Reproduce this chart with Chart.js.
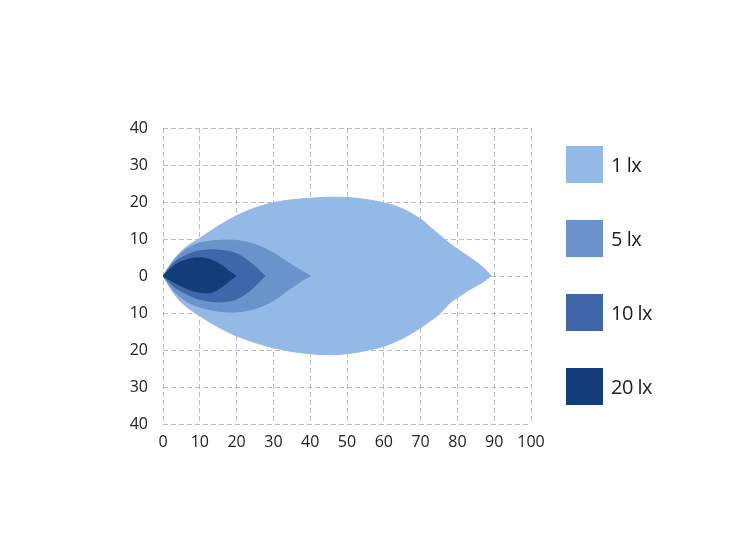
<!DOCTYPE html>
<html>
<head>
<meta charset="utf-8">
<script src="https://cdn.jsdelivr.net/npm/chart.js@4/dist/chart.umd.min.js"></script>
<style>
  body { margin: 0; background: #fff; }
  #wrap { position: relative; width: 750px; height: 550px; }
  #legend { position: absolute; left: 566px; top: 146px; font-family: "Open Sans", sans-serif; font-size: 20px; color: #222; }
  .item { position: absolute; left: 0; width: 160px; height: 37px; }
  .box { position: absolute; left: 0; top: 0; width: 37px; height: 37px; box-sizing: border-box; }
  .lbl { position: absolute; left: 45px; top: 0; line-height: 37px; letter-spacing: -0.5px; }
</style>
</head>
<body>
<div id="wrap">
  <canvas id="chart" width="750" height="550"></canvas>
  <div id="legend"></div>
</div>
<script>
// series labels and colours
var seriesLabels = ["1 lx", "5 lx", "10 lx", "20 lx"];
var seriesColors = ["#93bae6", "#6a93cb", "#3e66a8", "#133d78"];

// 1 lx outline (upper and lower halves)
var x1Up = [0, 3, 6, 10, 15, 20, 25, 30, 35, 40, 45, 50, 55, 60, 65, 70, 72.5, 75, 78, 81, 84, 87, 89.2];
var y1Up = [0, 4.5, 7.6, 10.2, 13.5, 16.3, 18.4, 19.8, 20.6, 21, 21.3, 21.2, 20.7, 19.8, 18.2, 15.4, 13.3, 11.2, 8.7, 6.6, 4.6, 2.3, 0];
var x1Lo = [0, 3, 6, 10, 15, 20, 25, 30, 35, 40, 45, 50, 55, 60, 65, 70, 72.5, 75, 78, 81, 84, 87, 89.2];
var y1Lo = [0, -4.8, -8, -10.8, -13.8, -16.2, -18, -19.4, -20.4, -21, -21.3, -21, -20.2, -19, -16.9, -14, -12.2, -10.4, -7.3, -5.2, -3.3, -1.6, 0];

// 5 lx
var x5Up = [0, 3, 6, 10, 15, 20, 25, 30, 34, 38, 40];
var y5Up = [0, 4.2, 7, 8.9, 9.6, 9.6, 8.5, 6.2, 3.6, 1.2, 0];
var x5Lo = [0, 3, 6, 10, 15, 20, 25, 30, 34, 38, 40];
var y5Lo = [0, -4, -6.6, -8.4, -9.5, -9.7, -8.8, -6.6, -3.8, -1.1, 0];

// 10 lx
var x10Up = [0, 3.2, 6.8, 10, 15, 20, 24, 27.7];
var y10Up = [0, 3.8, 5.8, 6.8, 7, 6, 3.4, 0];
var x10Lo = [0, 3.2, 6.8, 10, 15, 20, 24, 27.7];
var y10Lo = [0, -3, -5, -6.3, -7, -6.2, -3.6, 0];

// 20 lx
var x20Up = [0, 3.2, 6.8, 10, 13.2, 15.9, 18.2, 19.8];
var y20Up = [0, 2.9, 4.5, 4.9, 4.3, 2.9, 1.1, 0];
var x20Lo = [0, 3.2, 6.8, 10, 13.2, 15.9, 18.2, 19.8];
var y20Lo = [0, -1.8, -3.5, -4.4, -4.4, -3, -1.2, 0];

// axis ticks
var xTicks = [0, 10, 20, 30, 40, 50, 60, 70, 80, 90, 100];
var yTicks = [-40, -30, -20, -10, 0, 10, 20, 30, 40];

var toPts = function(xs, ys) {
  return xs.map(function(x, i) { return { x: x, y: ys[i] }; });
};

var outlines = [
  [x1Up, y1Up, x1Lo, y1Lo],
  [x5Up, y5Up, x5Lo, y5Lo],
  [x10Up, y10Up, x10Lo, y10Lo],
  [x20Up, y20Up, x20Lo, y20Lo]
];

var datasets = [];
outlines.forEach(function(o, i) {
  var upIndex = datasets.length;
  // upper half: only the edge
  datasets.push({
    label: seriesLabels[i],
    data: toPts(o[0], o[1]),
    showLine: true,
    borderColor: seriesColors[i],
    borderWidth: 1,
    backgroundColor: seriesColors[i],
    pointRadius: 0,
    tension: 0.35,
    fill: false,
    order: 4 - i
  });
  // lower half: filled up to the upper half
  datasets.push({
    label: seriesLabels[i],
    data: toPts(o[2], o[3]),
    showLine: true,
    borderColor: seriesColors[i],
    borderWidth: 1,
    backgroundColor: seriesColors[i],
    pointRadius: 0,
    tension: 0.35,
    fill: upIndex,
    order: 4 - i
  });
});

var tickFont = { family: '"Open Sans", sans-serif', size: 16 };
var gridStyle = {
  color: 'rgba(165,160,172,0.7)',
  lineWidth: 1,
  drawTicks: false
};

new Chart(document.getElementById('chart'), {
  type: 'scatter',
  data: { datasets: datasets },
  options: {
    responsive: false,
    animation: false,
    layout: { padding: { left: 0, top: 128, right: 219, bottom: 86 } },
    plugins: { legend: { display: false }, tooltip: { enabled: false } },
    scales: {
      x: {
        type: 'linear',
        min: 0, max: 100,
        afterBuildTicks: function(scale) { scale.ticks = xTicks.map(function(v) { return { value: v }; }); },
        afterFit: function(scale) { scale.height = 40; },
        grid: gridStyle,
        border: { display: false, dash: [5, 3] },
        ticks: { color: '#222', font: tickFont, padding: 9, maxRotation: 0 }
      },
      y: {
        type: 'linear',
        min: -40, max: 40,
        afterBuildTicks: function(scale) { scale.ticks = yTicks.map(function(v) { return { value: v }; }); },
        afterFit: function(scale) { scale.width = 163; },
        grid: gridStyle,
        border: { display: false, dash: [5, 3] },
        ticks: {
          color: '#222', font: tickFont, padding: 15,
          callback: function(v) { return Math.abs(v); }
        }
      }
    }
  }
});

// legend on the right
var legend = document.getElementById('legend');
seriesLabels.forEach(function(lab, i) {
  var item = document.createElement('div');
  item.className = 'item';
  item.style.top = (i * 74) + 'px';
  item.innerHTML = '<div class="box" style="background:' + seriesColors[i] + '"></div><div class="lbl">' + lab + '</div>';
  legend.appendChild(item);
});
</script>
</body>
</html>
